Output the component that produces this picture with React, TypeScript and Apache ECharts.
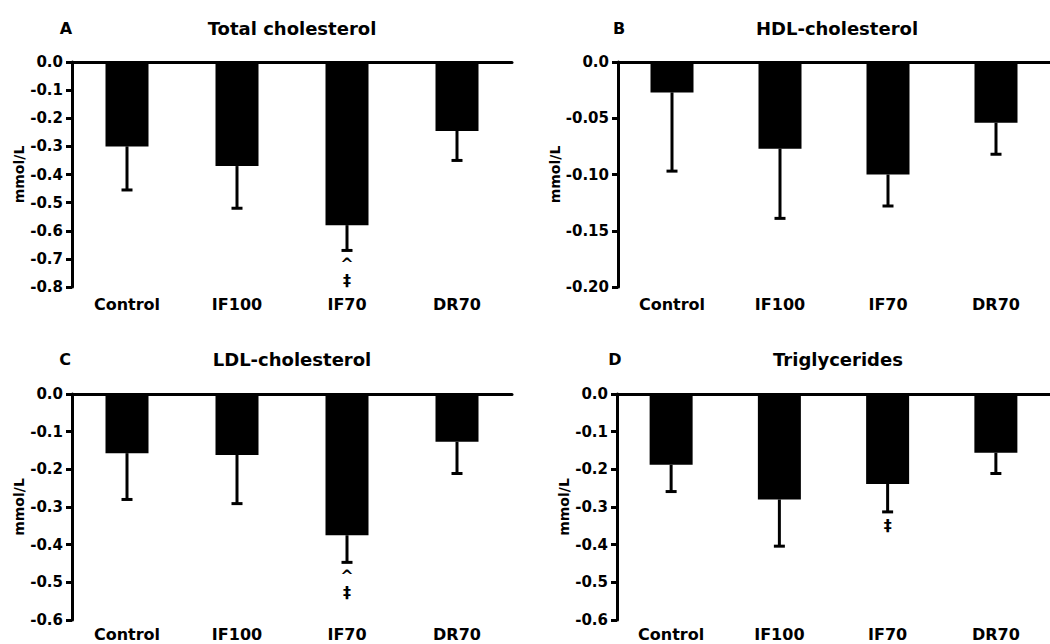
import React, { useEffect, useRef } from 'react';
import * as echarts from 'echarts';

const categories = ['Control', 'IF100', 'IF70', 'DR70'];

const panelLetters = ['A', 'B', 'C', 'D'];
const panelTitles = ['Total cholesterol', 'HDL-cholesterol', 'LDL-cholesterol', 'Triglycerides'];
const yAxisName = 'mmol/L';

// Total cholesterol (mean change, SEM)
const totalMean = [-0.30, -0.37, -0.58, -0.245];
const totalSem = [0.155, 0.15, 0.09, 0.105];
const totalMarks = [[], [], ['^', '‡'], []];
const totalTicks = { min: -0.8, max: 0, interval: 0.1, decimals: 1 };

// HDL-cholesterol
const hdlMean = [-0.027, -0.077, -0.100, -0.054];
const hdlSem = [0.070, 0.062, 0.028, 0.028];
const hdlMarks = [[], [], [], []];
const hdlTicks = { min: -0.2, max: 0, interval: 0.05, decimals: 2 };

// LDL-cholesterol
const ldlMean = [-0.157, -0.162, -0.375, -0.127];
const ldlSem = [0.123, 0.129, 0.072, 0.084];
const ldlMarks = [[], [], ['^', '‡'], []];
const ldlTicks = { min: -0.6, max: 0, interval: 0.1, decimals: 1 };

// Triglycerides
const tgMean = [-0.188, -0.280, -0.239, -0.156];
const tgSem = [0.071, 0.124, 0.074, 0.055];
const tgMarks = [[], [], ['‡'], []];
const tgTicks = { min: -0.6, max: 0, interval: 0.1, decimals: 1 };

const FONT = '"DejaVu Sans", sans-serif';

const layouts = [
  { left: 72, top: 62, width: 440, height: 225, nameGap: 44, labelMargin: 9, titleX: 292, titleY: 28, letterX: 66 },
  { left: 618, top: 62, width: 436, height: 225, nameGap: 52, labelMargin: 9, titleX: 837, titleY: 28, letterX: 619 },
  { left: 72, top: 394, width: 440, height: 226, nameGap: 44, labelMargin: 6, titleX: 292, titleY: 359, letterX: 65 },
  { left: 617, top: 394, width: 437, height: 226, nameGap: 44, labelMargin: 6, titleX: 838, titleY: 359, letterX: 615 },
];

const panelData = [
  { mean: totalMean, sem: totalSem, marks: totalMarks, ticks: totalTicks },
  { mean: hdlMean, sem: hdlSem, marks: hdlMarks, ticks: hdlTicks },
  { mean: ldlMean, sem: ldlSem, marks: ldlMarks, ticks: ldlTicks },
  { mean: tgMean, sem: tgSem, marks: tgMarks, ticks: tgTicks },
];

function buildOption() {
  const grid: any[] = [];
  const xAxis: any[] = [];
  const yAxis: any[] = [];
  const series: any[] = [];
  const graphic: any[] = [];

  panelData.forEach((p, i) => {
    const L = layouts[i];
    grid.push({ left: L.left, top: L.top, width: L.width, height: L.height, containLabel: false });
    // bottom axis: category labels only
    xAxis.push({
      type: 'category',
      gridIndex: i,
      data: categories,
      position: 'bottom',
      axisLine: { show: false, onZero: false },
      axisTick: { show: false },
      axisLabel: {
        color: '#000',
        fontSize: 16,
        fontWeight: 'bold',
        fontFamily: FONT,
        margin: L.labelMargin,
      },
      splitLine: { show: false },
    });
    // top axis: the zero line
    xAxis.push({
      type: 'category',
      gridIndex: i,
      data: categories,
      position: 'top',
      axisLine: { show: true, onZero: false, lineStyle: { color: '#000', width: 3 } },
      axisTick: { show: false },
      axisLabel: { show: false },
      splitLine: { show: false },
    });
    const dec = p.ticks.decimals;
    yAxis.push({
      type: 'value',
      gridIndex: i,
      min: p.ticks.min,
      max: p.ticks.max,
      interval: p.ticks.interval,
      axisLine: { show: true, onZero: false, lineStyle: { color: '#000', width: 3 } },
      axisTick: { show: true, length: 6, lineStyle: { color: '#000', width: 3 } },
      axisLabel: {
        color: '#000',
        fontSize: 15,
        fontWeight: 'bold',
        fontFamily: FONT,
        margin: 9,
        formatter: (v: number) => (Math.abs(v) < 1e-9 ? '0.0' : v.toFixed(dec)),
      },
      splitLine: { show: false },
      name: yAxisName,
      nameLocation: 'middle',
      nameGap: L.nameGap,
      nameTextStyle: { color: '#000', fontSize: 14, fontWeight: 'bold', fontFamily: FONT },
    });

    series.push({
      type: 'bar',
      xAxisIndex: 2 * i,
      yAxisIndex: i,
      data: p.mean,
      barWidth: 43,
      itemStyle: { color: '#000' },
      silent: true,
    });

    const errData = categories.map((_, k) => [k, p.mean[k], p.mean[k] - p.sem[k]]);
    const marks = p.marks;
    series.push({
      type: 'custom',
      xAxisIndex: 2 * i,
      yAxisIndex: i,
      data: errData,
      encode: { x: 0, y: [1, 2] },
      clip: false,
      silent: true,
      renderItem: (params: any, api: any) => {
        const x = api.value(0);
        const p0 = api.coord([x, api.value(1)]);
        const p1 = api.coord([x, api.value(2)]);
        const cap = 5.5;
        const children: any[] = [
          {
            type: 'line',
            shape: { x1: p0[0], y1: p0[1], x2: p1[0], y2: p1[1] },
            style: { stroke: '#000', lineWidth: 3 },
          },
          {
            type: 'line',
            shape: { x1: p1[0] - cap, y1: p1[1], x2: p1[0] + cap, y2: p1[1] },
            style: { stroke: '#000', lineWidth: 3 },
          },
        ];
        const m = marks[params.dataIndex] || [];
        if (m.length) {
          children.push({
            type: 'text',
            style: {
              text: m.join('\n'),
              x: p1[0],
              y: p1[1] + 5,
              fill: '#000',
              font: `bold 16px ${FONT}`,
              lineHeight: 17,
              align: 'center',
              verticalAlign: 'top',
            },
          });
        }
        return { type: 'group', children };
      },
    });

    graphic.push({
      type: 'text',
      x: L.titleX,
      y: L.titleY,
      style: {
        text: panelTitles[i],
        fill: '#000',
        font: `bold 18px ${FONT}`,
        align: 'center',
        verticalAlign: 'middle',
      },
    });
    graphic.push({
      type: 'text',
      x: L.letterX,
      y: L.titleY,
      style: {
        text: panelLetters[i],
        fill: '#000',
        font: `bold 16px ${FONT}`,
        align: 'center',
        verticalAlign: 'middle',
      },
    });
  });

  return {
    animation: false,
    backgroundColor: '#fff',
    grid,
    xAxis,
    yAxis,
    series,
    graphic,
  };
}

export default function App() {
  const ref = useRef<HTMLDivElement>(null);
  useEffect(() => {
    if (!ref.current) return;
    const chart = echarts.init(ref.current, null, { renderer: 'svg' });
    chart.setOption(buildOption() as any);
    return () => chart.dispose();
  }, []);
  return (
    <div
      ref={ref}
      style={{ position: 'absolute', left: 0, top: 0, width: 1050, height: 644, background: '#fff' }}
    />
  );
}
